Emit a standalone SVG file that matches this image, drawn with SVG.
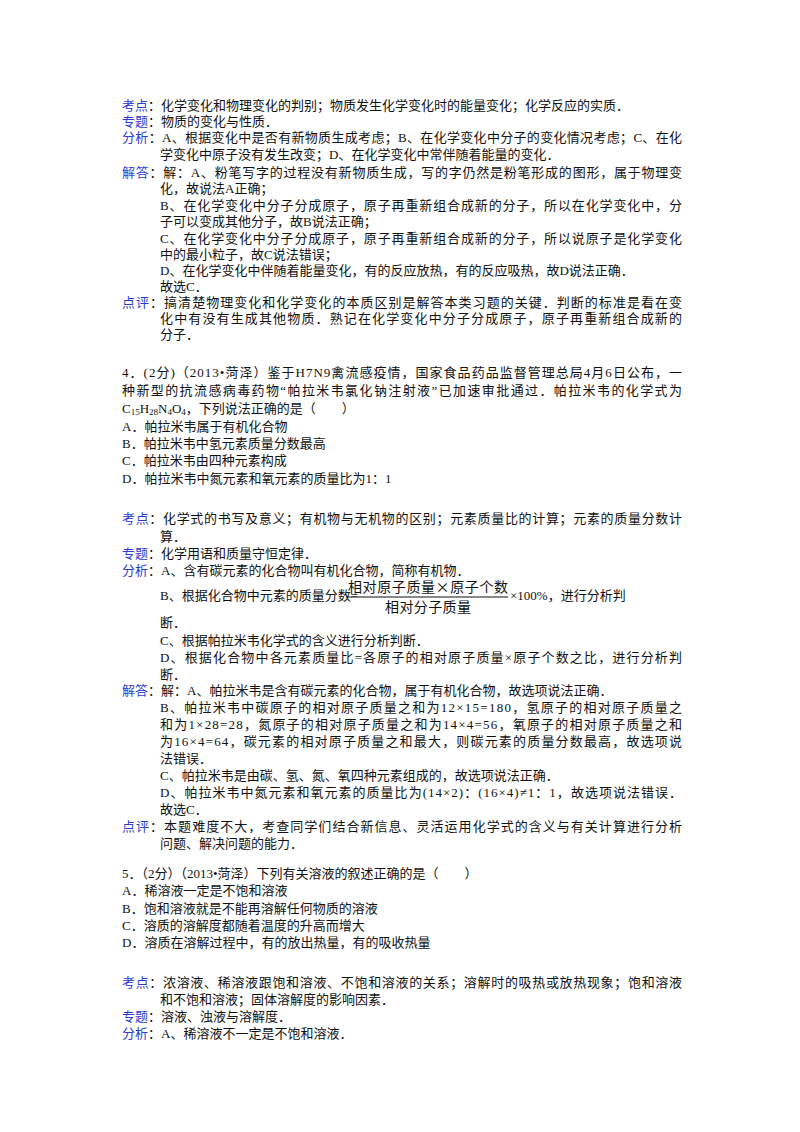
<svg xmlns="http://www.w3.org/2000/svg" width="800" height="1132" viewBox="0 0 800 1132">
<style>
text{font-family:"Liberation Serif","Noto Sans CJK SC",serif;font-size:13px;fill:#111}
.l{fill:#2b3bd6}
.f{font-family:"Noto Sans CJK SC",sans-serif;font-size:14px}
</style>
<rect width="800" height="1132" fill="#fff"/>
<g id="q3">
<text x="122" y="110"><tspan class="l">考点</tspan>：化学变化和物理变化的判别；物质发生化学变化时的能量变化；化学反应的实质．</text>
<text x="122" y="126"><tspan class="l">专题</tspan>：物质的变化与性质．</text>
<text x="122" y="142" textLength="560"><tspan class="l">分析</tspan>：A、根据变化中是否有新物质生成考虑；B、在化学变化中分子的变化情况考虑；C、在化</text>
<text x="160" y="159">学变化中原子没有发生改变；D、在化学变化中常伴随着能量的变化．</text>
<text x="122" y="177" textLength="560"><tspan class="l">解答</tspan>：解：A、粉笔写字的过程没有新物质生成，写的字仍然是粉笔形成的图形，属于物理变</text>
<text x="160" y="193">化，故说法A正确；</text>
<text x="160" y="210" textLength="522">B、在化学变化中分子分成原子，原子再重新组合成新的分子，所以在化学变化中，分</text>
<text x="160" y="226">子可以变成其他分子，故B说法正确；</text>
<text x="160" y="243" textLength="522">C、在化学变化中分子分成原子，原子再重新组合成新的分子，所以说原子是化学变化</text>
<text x="160" y="259">中的最小粒子，故C说法错误；</text>
<text x="160" y="275">D、在化学变化中伴随着能量变化，有的反应放热，有的反应吸热，故D说法正确．</text>
<text x="160" y="291">故选C．</text>
<text x="122" y="307" textLength="560"><tspan class="l">点评</tspan>：搞清楚物理变化和化学变化的本质区别是解答本类习题的关键．判断的标准是看在变</text>
<text x="160" y="323" textLength="522">化中有没有生成其他物质．熟记在化学变化中分子分成原子，原子再重新组合成新的</text>
<text x="160" y="339">分子．</text>
</g>
<g id="q4">
<text x="122" y="377" textLength="560">4．(2分)（2013•菏泽）鉴于H7N9禽流感疫情，国家食品药品监督管理总局4月6日公布，一</text>
<text x="122" y="395" textLength="560">种新型的抗流感病毒药物“帕拉米韦氯化钠注射液”已加速审批通过．帕拉米韦的化学式为</text>
<text x="122" y="413">C<tspan font-size="9" dy="2">15</tspan><tspan dy="-2">H</tspan><tspan font-size="9" dy="2">28</tspan><tspan dy="-2">N</tspan><tspan font-size="9" dy="2">4</tspan><tspan dy="-2">O</tspan><tspan font-size="9" dy="2">4</tspan><tspan dy="-2">，下列说法正确的是（　　）</tspan></text>
<text x="122" y="431">A．帕拉米韦属于有机化合物</text>
<text x="122" y="448">B．帕拉米韦中氢元素质量分数最高</text>
<text x="122" y="465">C．帕拉米韦由四种元素构成</text>
<text x="122" y="483">D．帕拉米韦中氮元素和氧元素的质量比为1：1</text>
<text x="122" y="523" textLength="560"><tspan class="l">考点</tspan>：化学式的书写及意义；有机物与无机物的区别；元素质量比的计算；元素的质量分数计</text>
<text x="160" y="541">算．</text>
<text x="122" y="558"><tspan class="l">专题</tspan>：化学用语和质量守恒定律．</text>
<text x="122" y="575"><tspan class="l">分析</tspan>：A、含有碳元素的化合物叫有机化合物，简称有机物．</text>
<text x="160" y="600">B、根据化合物中元素的质量分数=</text>
<text class="f" x="348" y="592" textLength="160">相对原子质量×原子个数</text>
<line x1="346" y1="597" x2="508" y2="597" stroke="#111" stroke-width="1"/>
<text class="f" x="385" y="612" textLength="86">相对分子质量</text>
<text x="510" y="600">×100%，进行分析判</text>
<text x="160" y="627">断．</text>
<text x="160" y="645">C、根据帕拉米韦化学式的含义进行分析判断．</text>
<text x="160" y="662" textLength="522">D、根据化合物中各元素质量比=各原子的相对原子质量×原子个数之比，进行分析判</text>
<text x="160" y="679">断．</text>
<text x="122" y="695"><tspan class="l">解答</tspan>：解：A、帕拉米韦是含有碳元素的化合物，属于有机化合物，故选项说法正确．</text>
<text x="160" y="712" textLength="522">B、帕拉米韦中碳原子的相对原子质量之和为12×15=180，氢原子的相对原子质量之</text>
<text x="160" y="729" textLength="522">和为1×28=28，氮原子的相对原子质量之和为14×4=56，氧原子的相对原子质量之和</text>
<text x="160" y="746" textLength="522">为16×4=64，碳元素的相对原子质量之和最大，则碳元素的质量分数最高，故选项说</text>
<text x="160" y="763">法错误．</text>
<text x="160" y="780">C、帕拉米韦是由碳、氢、氮、氧四种元素组成的，故选项说法正确．</text>
<text x="160" y="797" textLength="522">D、帕拉米韦中氮元素和氧元素的质量比为(14×2)：(16×4)≠1：1，故选项说法错误．</text>
<text x="160" y="814">故选C．</text>
<text x="122" y="831" textLength="560"><tspan class="l">点评</tspan>：本题难度不大，考查同学们结合新信息、灵活运用化学式的含义与有关计算进行分析</text>
<text x="160" y="848">问题、解决问题的能力．</text>
</g>
<g id="q5">
<text x="122" y="878">5．（2分）（2013•菏泽）下列有关溶液的叙述正确的是（　　）</text>
<text x="122" y="895">A．稀溶液一定是不饱和溶液</text>
<text x="122" y="913">B．饱和溶液就是不能再溶解任何物质的溶液</text>
<text x="122" y="930">C．溶质的溶解度都随着温度的升高而增大</text>
<text x="122" y="947">D．溶质在溶解过程中，有的放出热量，有的吸收热量</text>
<text x="122" y="987" textLength="560"><tspan class="l">考点</tspan>：浓溶液、稀溶液跟饱和溶液、不饱和溶液的关系；溶解时的吸热或放热现象；饱和溶液</text>
<text x="160" y="1004">和不饱和溶液；固体溶解度的影响因素．</text>
<text x="122" y="1021"><tspan class="l">专题</tspan>：溶液、浊液与溶解度．</text>
<text x="122" y="1038"><tspan class="l">分析</tspan>：A、稀溶液不一定是不饱和溶液．</text>
</g>
</svg>
